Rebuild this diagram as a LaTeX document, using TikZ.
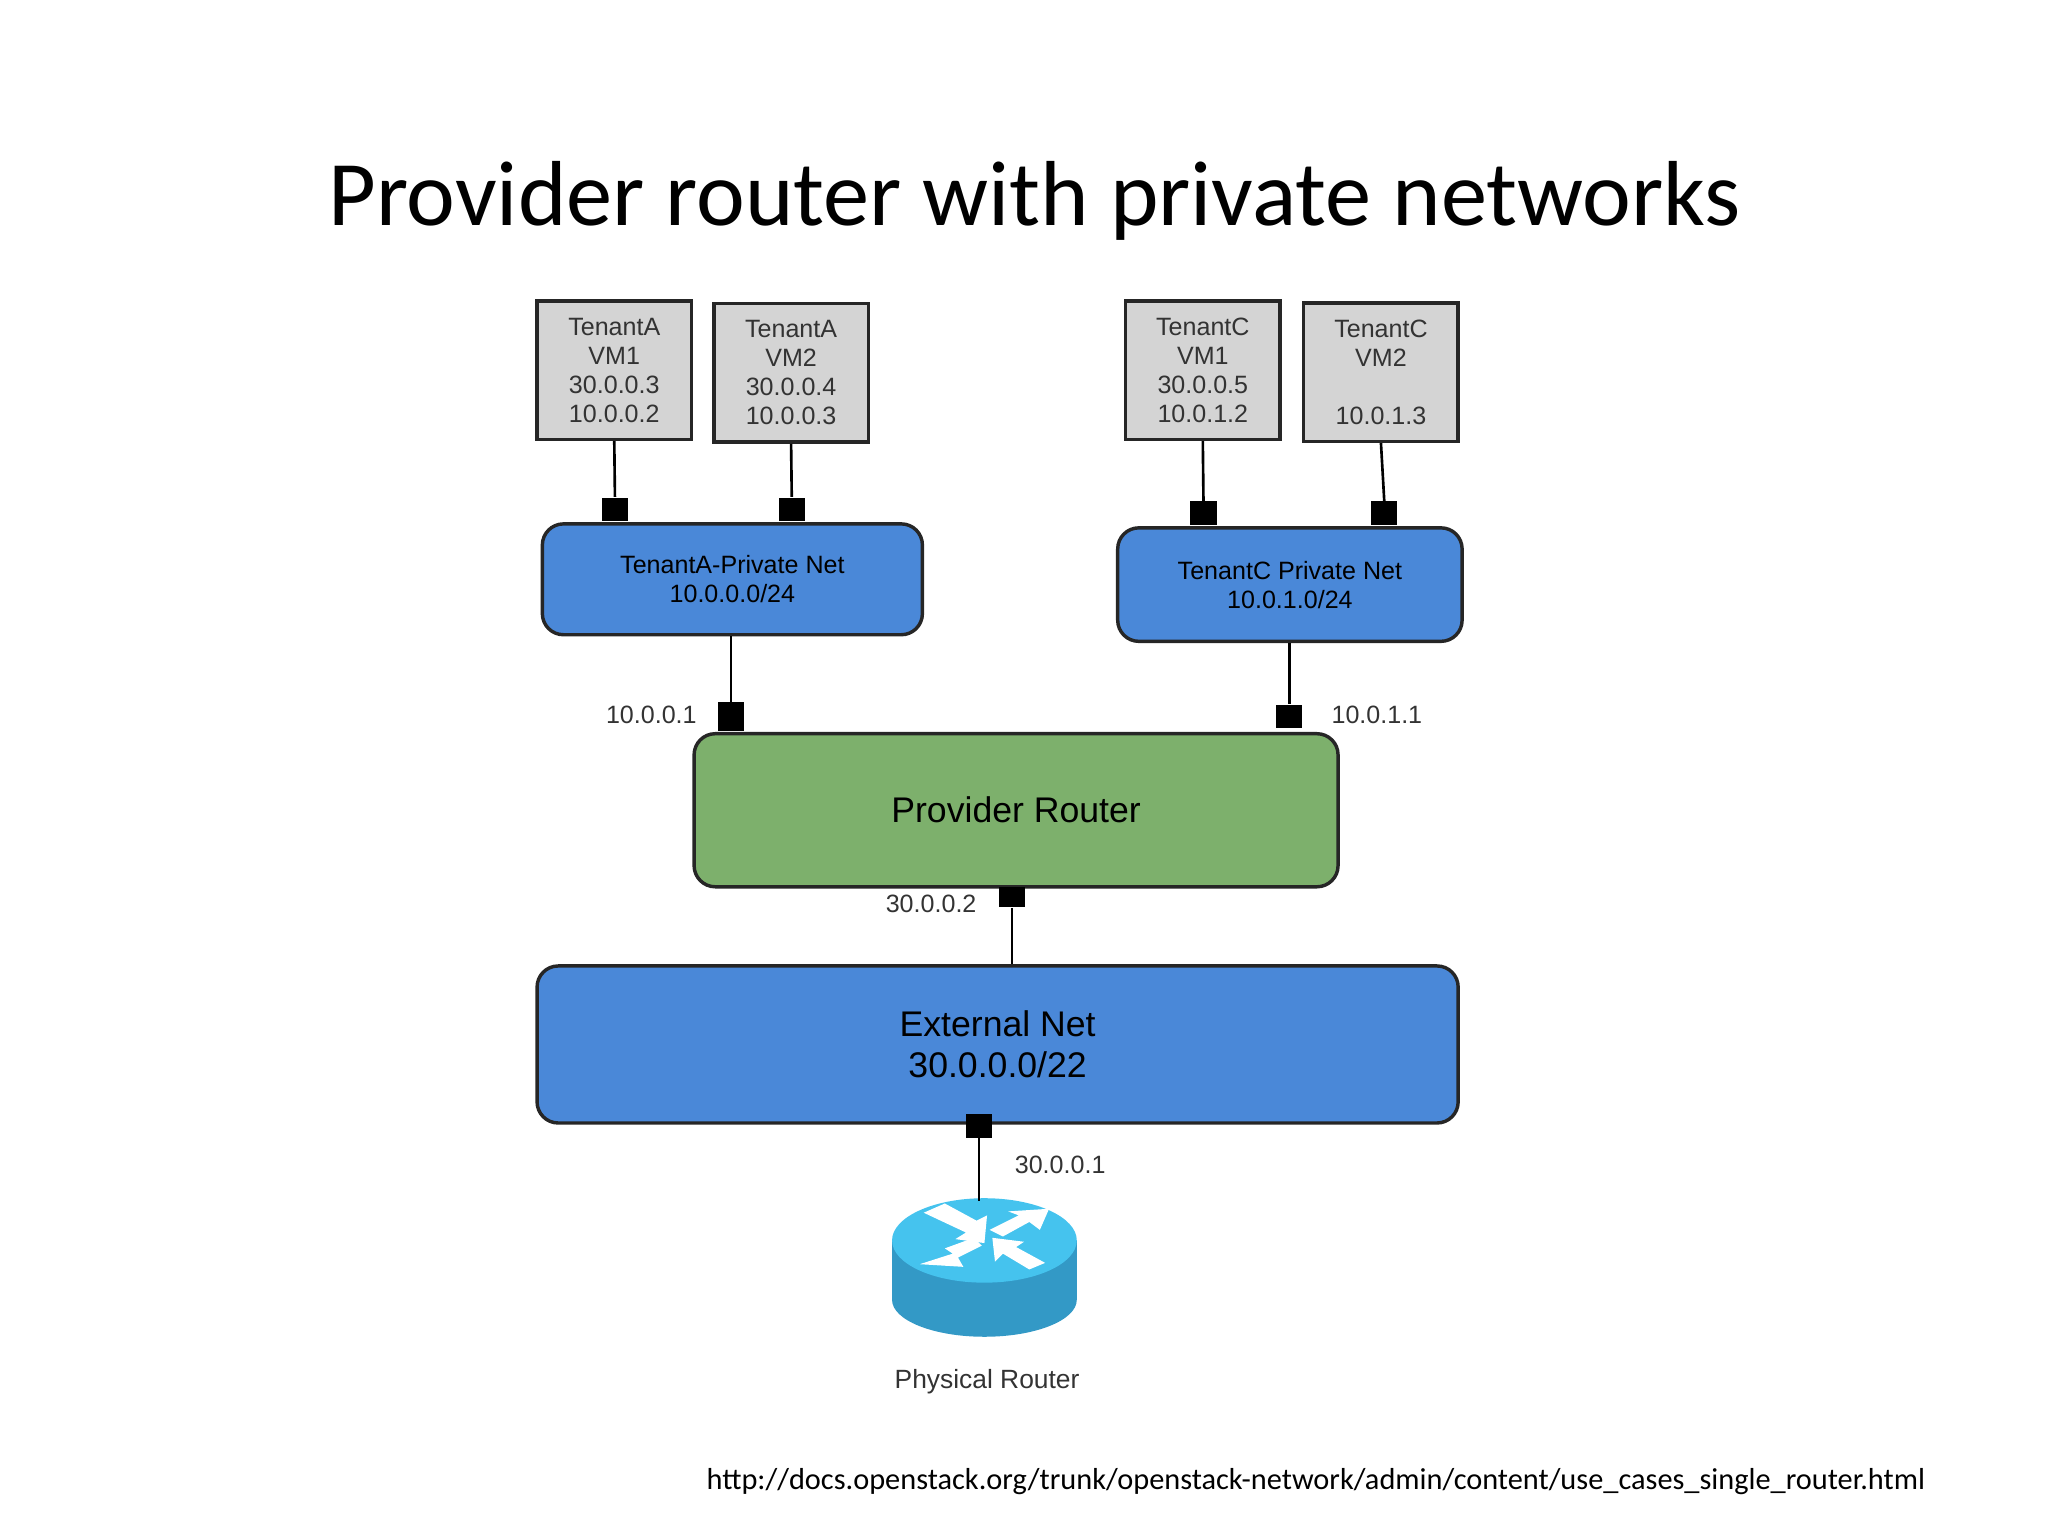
\documentclass[tikz,border=0pt]{standalone}
\usepackage{fontspec}
\setmainfont{Liberation Sans}
\newfontfamily\calfont{Carlito}
\begin{document}
\begin{tikzpicture}[x=0.5pt,y=-0.5pt,
 vm/.style={draw=black!85,line width=1.3pt,fill=black!17,minimum width=58.5pt,minimum height=52.5pt,align=center,font=\fontsize{9.5}{11}\selectfont,text=black!80,inner sep=0pt},
 net/.style={draw=black!85,line width=1.3pt,rounded corners=8pt,align=center,inner sep=0pt},
 port/.style={fill=black,minimum width=10pt,minimum height=9pt,inner sep=0pt},
 lab/.style={font=\fontsize{9.5}{11}\selectfont,text=black!80},
 ln/.style={line width=1pt}]
\definecolor{netblue}{HTML}{4A88D8}
\definecolor{rgreen}{HTML}{7DB06C}
\definecolor{rtop}{HTML}{45C3EE}
\definecolor{rside}{HTML}{3399C6}
\useasboundingbox (0,0) rectangle (1552,1164);
\node[font=\calfont\fontsize{35}{40}\selectfont] (title) at (784,152) {Provider router with private networks};
% VMs
\node[vm] (a1) at (465.5,280.5) {TenantA\\VM1\\30.0.0.3\\10.0.0.2};
\node[vm] (a2) at (599.5,282.5) {TenantA\\VM2\\30.0.0.4\\10.0.0.3};
\node[vm] (c1) at (911.5,280.5) {TenantC\\VM1\\30.0.0.5\\10.0.1.2};
\node[vm] (c2) at (1046.5,282) {TenantC\\VM2\\\\10.0.1.3};
% nets
\node[net,fill=netblue,minimum width=144pt,minimum height=42pt,font=\fontsize{9.5}{11}\selectfont] (an) at (555,439) {TenantA-Private Net\\10.0.0.0/24};
\node[net,fill=netblue,minimum width=130.5pt,minimum height=43pt,font=\fontsize{9.5}{11}\selectfont] (cn) at (977.5,443) {TenantC Private Net\\10.0.1.0/24};
\node[net,fill=rgreen,minimum width=244pt,minimum height=58pt,font=\fontsize{13.5}{15}\selectfont] (pr) at (770,614) {Provider Router};
\node[net,fill=netblue,minimum width=349pt,minimum height=59.5pt,font=\fontsize{13.5}{15.5}\selectfont] (ext) at (756,791.5) {External Net\\30.0.0.0/22};
% ports
\node[port] (pa1) at (466,386) {};
\node[port] (pa2) at (600,386) {};
\node[port] (pc1) at (912,389) {};
\node[port] (pc2) at (1049,389) {};
\node[port,minimum height=11pt] (pan) at (554,543) {};
\node[port] (pcn) at (977,543) {};
\node[port,minimum height=7.5pt] (ppr) at (767,680) {};
\node[port] (pex) at (742,853) {};
% labels
\node[lab,anchor=east] (l1) at (535,542) {10.0.0.1};
\node[lab,anchor=west] (l2) at (1002,542) {10.0.1.1};
\node[lab,anchor=east] (l3) at (747,685) {30.0.0.2};
\node[lab,anchor=west] (l4) at (762,883) {30.0.0.1};
% router
\fill[rside] (676,940) -- (676,985) arc[start angle=180,end angle=0,x radius=70,y radius=28] -- (816,940) -- cycle;
\fill[rtop] (746,940) ellipse[x radius=70,y radius=32];
\coordinate (rt) at (742,910);
\fill[white] (700,919) -- (716,912) -- (740,925) -- (748,921) -- (746,942) -- (724,939) -- (732,934) -- cycle;
\fill[white] (795,916) -- (788,932) -- (780,926) -- (760,937) -- (750,932) -- (772,921) -- (764,918) -- cycle;
\fill[white] (697,958) -- (722,950) -- (716,946) -- (738,938) -- (744,944) -- (726,953) -- (730,960) -- cycle;
\fill[white] (752,938) -- (776,941) -- (770,945) -- (792,957) -- (780,962) -- (760,950) -- (754,956) -- cycle;
\node[lab,font=\fontsize{10}{12}\selectfont] (rl) at (748,1047) {Physical Router};
\node[font=\calfont\fontsize{11.5}{13}\selectfont,anchor=east] (url) at (1466,1123) {http://docs.openstack.org/trunk/openstack-network/admin/content/use\_cases\_single\_router.html};
% connectors
\draw[ln] (a1.south) -- (pa1.north);
\draw[ln] (a2.south) -- (pa2.north);
\draw[ln] (c1.south) -- (pc1.north);
\draw[ln] (c2.south) -- (pc2.north);
\draw[ln] (an.south -| pan) -- (pan.north);
\draw[ln] (cn.south -| pcn) -- (pcn.north);
\draw[ln] (ppr.south) -- (ext.north -| ppr);
\draw[ln] (pex.south) -- (rt);
\end{tikzpicture}
\end{document}
